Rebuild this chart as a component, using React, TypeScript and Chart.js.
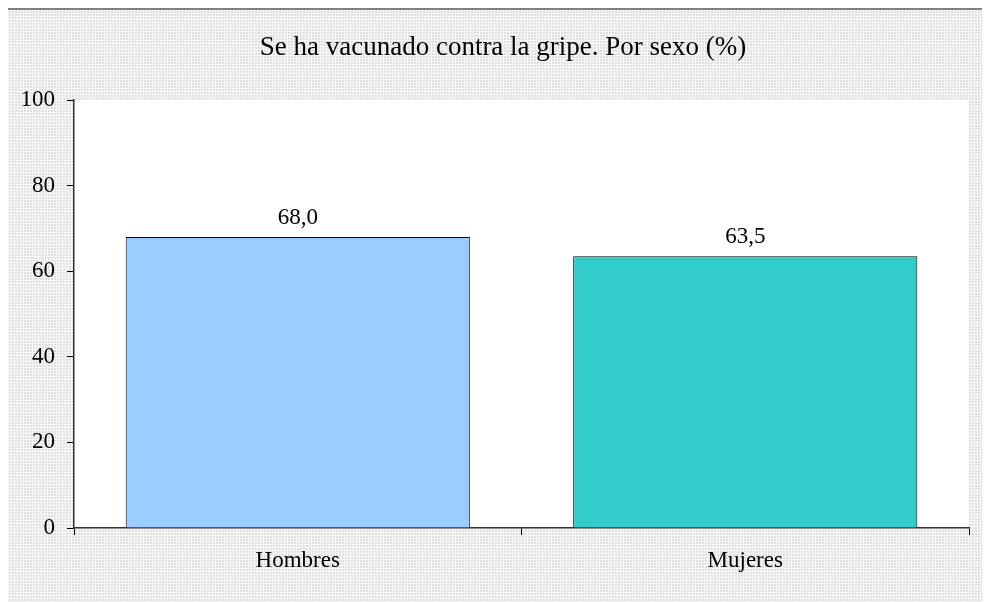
import React, { useEffect, useRef } from "react";
import { Chart, registerables } from "chart.js";

Chart.register(...registerables);

const categories = ["Hombres", "Mujeres"];
const values = [68.0, 63.5];
const barColors = ["#99CCFF", "#33CCCC"];
const titleText = "Se ha vacunado contra la gripe. Por sexo (%)";
const yMin = 0;
const yMax = 100;
const yStep = 20;

const FONT = "'Liberation Serif', 'Times New Roman', serif";
const W = 984;
const H = 594;

function makePattern(ctx: CanvasRenderingContext2D) {
  const c = document.createElement("canvas");
  c.width = 3;
  c.height = 3;
  const p = c.getContext("2d")!;
  p.fillStyle = "#f7f7f7";
  p.fillRect(0, 0, 3, 3);
  p.fillStyle = "#e2e2e2";
  p.fillRect(0, 0, 2, 2);
  p.fillStyle = "#d9d9d9";
  p.fillRect(0, 0, 1, 1);
  return ctx.createPattern(c, "repeat");
}

const bgPlugin = {
  id: "bg",
  beforeDraw(chart: any) {
    const ctx = chart.ctx as CanvasRenderingContext2D;
    const a = chart.chartArea;
    ctx.save();
    const pat = makePattern(ctx);
    ctx.fillStyle = pat || "#ececec";
    ctx.fillRect(0, 0, chart.width, chart.height);
    ctx.fillStyle = "#ffffff";
    ctx.fillRect(a.left, a.top, a.right - a.left, a.bottom - a.top);
    ctx.fillStyle = "#808080";
    ctx.fillRect(0, 0, chart.width, 2);
    ctx.fillRect(0, 0, 2, chart.height);
    ctx.fillStyle = "#000000";
    ctx.font = `27px ${FONT}`;
    ctx.textAlign = "center";
    ctx.textBaseline = "alphabetic";
    ctx.fillText(titleText, 497, 47);
    ctx.restore();
  },
};

const labelPlugin = {
  id: "valueLabels",
  afterDatasetsDraw(chart: any) {
    const ctx = chart.ctx as CanvasRenderingContext2D;
    const meta = chart.getDatasetMeta(0);
    ctx.save();
    ctx.fillStyle = "#000000";
    ctx.font = `23px ${FONT}`;
    ctx.textAlign = "center";
    ctx.textBaseline = "alphabetic";
    meta.data.forEach((el: any, i: number) => {
      const txt = values[i].toFixed(1).replace(".", ",");
      ctx.fillText(txt, el.x, el.y - 13);
    });
    ctx.restore();
  },
};

export default function App() {
  const ref = useRef<HTMLCanvasElement | null>(null);
  useEffect(() => {
    if (!ref.current) return;
    const chart = new Chart(ref.current, {
      type: "bar",
      data: {
        labels: categories,
        datasets: [
          {
            data: values,
            backgroundColor: barColors,
            borderColor: "#000000",
            borderWidth: 1,
            categoryPercentage: 1,
            barPercentage: 0.769,
          },
        ],
      },
      options: {
        animation: false,
        responsive: false,
        devicePixelRatio: 1,
        layout: { padding: { top: 92, right: 21, left: 0, bottom: 0 } },
        plugins: {
          legend: { display: false },
          title: { display: false },
          tooltip: { enabled: false },
        },
        scales: {
          x: {
            afterFit(scale: any) {
              scale.height = H - 520;
            },
            grid: {
              offset: true,
              drawOnChartArea: false,
              drawTicks: true,
              tickLength: 7,
              color: "#000000",
            },
            border: { display: true, color: "#333333", width: 1.5 },
            ticks: {
              color: "#000000",
              font: { family: FONT, size: 23 },
              padding: 12,
            },
          },
          y: {
            min: yMin,
            max: yMax,
            afterFit(scale: any) {
              scale.width = 68;
            },
            grid: {
              drawOnChartArea: false,
              drawTicks: true,
              tickLength: 7,
              color: "#000000",
            },
            border: { display: true, color: "#333333", width: 1.5 },
            ticks: {
              stepSize: yStep,
              color: "#000000",
              font: { family: FONT, size: 23 },
              padding: 12,
            },
          },
        },
      },
      plugins: [bgPlugin, labelPlugin],
    });
    return () => chart.destroy();
  }, []);
  return (
    <div style={{ marginLeft: -2, width: W, height: H }}>
      <canvas ref={ref} width={W} height={H} style={{ display: "block", width: W, height: H }} />
    </div>
  );
}
